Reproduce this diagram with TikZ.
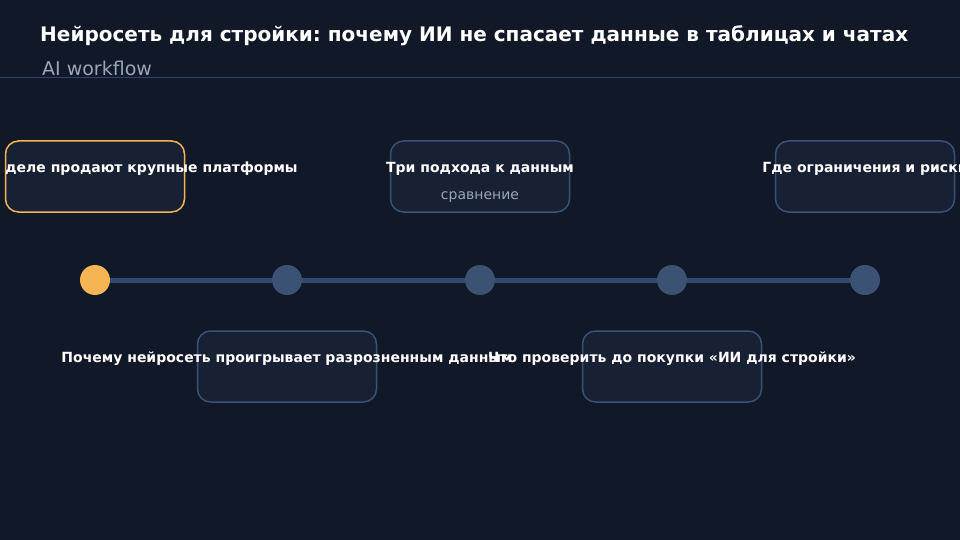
\documentclass[tikz,border=0pt]{standalone}
\usepackage{fontspec}
\setmainfont{DejaVu Sans}
\frenchspacing
\definecolor{bgdark}{HTML}{111827}
\definecolor{cardfill}{HTML}{172133}
\definecolor{slate}{HTML}{3B5275}
\definecolor{rail}{HTML}{324A6C}
\definecolor{amber}{HTML}{F4B552}
\definecolor{muted}{HTML}{9AA5B8}
\definecolor{rule}{HTML}{2A4767}
\begin{document}
\begin{tikzpicture}[x=1pt,y=-1pt]
  \tikzstyle{every node}+=[inner sep=0pt]
  \tikzstyle{card}=[draw=slate,fill=cardfill,line width=1.5pt,rounded corners=13pt,minimum width=179pt,minimum height=71pt]
  \tikzstyle{cardtext}=[text=white,anchor=base,font=\bfseries\fontsize{14}{16}\selectfont]
  \tikzstyle{stop}=[circle,fill=slate,minimum size=30pt]
  \useasboundingbox (0,0) rectangle (960,540);
  \fill [bgdark] (0,0) rectangle (960,540);
  \clip (0,0) rectangle (960,540);
  % header
  \node [anchor=base west,text=white,font=\bfseries\fontsize{20}{24}\selectfont] (title) at (40,42) {Нейросеть для стройки: почему ИИ не спасает данные в таблицах и чатах};
  \node [anchor=base west,text=muted,font=\fontsize{19}{22}\selectfont] (sub) at (42,76) {AI workflow};
  \coordinate (r1) at (0,78);
  \coordinate (r2) at (960,78);
  \draw [rule,line width=1pt] (r1) -- (r2);
  % timeline
  \node [stop,fill=amber] (s1) at (95,280) {};
  \node [stop] (s2) at (287,280) {};
  \node [stop] (s3) at (480,280) {};
  \node [stop] (s4) at (672,280) {};
  \node [stop] (s5) at (865,280) {};
  \draw [rail,line width=5pt] (s1) -- (s2) -- (s3) -- (s4) -- (s5);
  % cards
  \node [card,draw=amber] (c1) at (95,176.5) {};
  \node [card] (c3) at (480,176.5) {};
  \node [card] (c5) at (865,176.5) {};
  \node [card] (c2) at (287,366.5) {};
  \node [card] (c4) at (672,366.5) {};
  \node [cardtext] (l1) at (95,172) {Что на самом деле продают крупные платформы};
  \node [cardtext] (l3) at (480,172) {Три подхода к данным};
  \node [anchor=base,text=muted,font=\fontsize{14}{16}\selectfont] (n3) at (480,199) {сравнение};
  \node [cardtext] (l5) at (865,172) {Где ограничения и риски};
  \node [cardtext] (l2) at (287,362) {Почему нейросеть проигрывает разрозненным данным};
  \node [cardtext] (l4) at (672,362) {Что проверить до покупки «ИИ для стройки»};
\end{tikzpicture}
\end{document}
